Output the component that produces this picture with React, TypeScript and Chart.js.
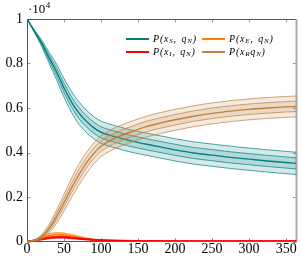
import React, { useEffect, useRef } from "react";
import { Chart, registerables } from "chart.js";

Chart.register(...registerables);

// time axis (days)
const T = [0, 10, 20, 30, 40, 50, 60, 70, 80, 90, 100, 120, 140, 160, 180, 200, 225, 250, 275, 300, 325, 350, 364];

// S
const S_mean = [1.0, 0.945, 0.89, 0.825, 0.762, 0.69, 0.628, 0.578, 0.541, 0.512, 0.491, 0.47, 0.452, 0.438, 0.425, 0.412, 0.398, 0.388, 0.378, 0.37, 0.362, 0.355, 0.351];
const S_outerHi = [1.0, 0.951, 0.905, 0.85, 0.797, 0.732, 0.675, 0.628, 0.591, 0.562, 0.541, 0.52, 0.502, 0.488, 0.475, 0.462, 0.448, 0.438, 0.428, 0.42, 0.412, 0.405, 0.401];
const S_outerLo = [1.0, 0.939, 0.875, 0.8, 0.727, 0.648, 0.581, 0.528, 0.491, 0.462, 0.441, 0.42, 0.402, 0.388, 0.375, 0.362, 0.348, 0.338, 0.328, 0.32, 0.312, 0.305, 0.301];
const S_innerHi = [1.0, 0.948, 0.897, 0.838, 0.779, 0.711, 0.651, 0.603, 0.566, 0.537, 0.516, 0.495, 0.477, 0.463, 0.45, 0.437, 0.423, 0.413, 0.403, 0.395, 0.387, 0.38, 0.376];
const S_innerLo = [1.0, 0.942, 0.883, 0.812, 0.745, 0.669, 0.605, 0.553, 0.516, 0.487, 0.466, 0.445, 0.427, 0.413, 0.4, 0.387, 0.373, 0.363, 0.353, 0.345, 0.337, 0.33, 0.326];

// E
const E_mean = [0, 0.006, 0.016, 0.026, 0.031, 0.03, 0.025, 0.018, 0.012, 0.008, 0.005, 0.003, 0.002, 0.001, 0.001, 0.0005, 0.0005, 0, 0, 0, 0, 0, 0];
const E_hi = [0, 0.009, 0.022, 0.035, 0.04, 0.038, 0.032, 0.024, 0.016, 0.011, 0.007, 0.004, 0.003, 0.002, 0.0015, 0.001, 0.001, 0.001, 0.001, 0.001, 0.001, 0.001, 0.001];
const E_lo = [0, 0.003, 0.01, 0.018, 0.022, 0.022, 0.018, 0.012, 0.008, 0.005, 0.003, 0.002, 0.001, 0.0005, 0, 0, 0, 0, 0, 0, 0, 0, 0];

// I
const I_mean = [0.001, 0.004, 0.01, 0.016, 0.019, 0.019, 0.016, 0.013, 0.01, 0.008, 0.006, 0.004, 0.003, 0.0025, 0.002, 0.002, 0.002, 0.002, 0.002, 0.002, 0.002, 0.002, 0.002];
const I_hi = [0.002, 0.006, 0.013, 0.02, 0.023, 0.023, 0.02, 0.016, 0.013, 0.01, 0.008, 0.006, 0.005, 0.004, 0.0035, 0.003, 0.003, 0.003, 0.003, 0.003, 0.003, 0.003, 0.003];
const I_lo = [0, 0.002, 0.007, 0.012, 0.015, 0.015, 0.012, 0.01, 0.007, 0.006, 0.004, 0.002, 0.001, 0.001, 0.001, 0.001, 0.001, 0.001, 0.001, 0.001, 0.001, 0.001, 0.001];

// R
const R_mean = [0, 0.004, 0.022, 0.058, 0.112, 0.175, 0.24, 0.3, 0.352, 0.395, 0.428, 0.466, 0.492, 0.515, 0.532, 0.547, 0.563, 0.576, 0.586, 0.594, 0.6, 0.605, 0.607];
const R_outerHi = [0, 0.006, 0.032, 0.078, 0.142, 0.213, 0.283, 0.347, 0.399, 0.442, 0.475, 0.513, 0.539, 0.562, 0.579, 0.594, 0.61, 0.623, 0.633, 0.641, 0.647, 0.652, 0.654];
const R_outerLo = [0, 0.002, 0.012, 0.038, 0.082, 0.137, 0.197, 0.253, 0.305, 0.348, 0.381, 0.419, 0.445, 0.468, 0.485, 0.5, 0.516, 0.529, 0.539, 0.547, 0.553, 0.558, 0.56];
const R_innerHi = [0, 0.005, 0.027, 0.068, 0.127, 0.194, 0.262, 0.324, 0.376, 0.419, 0.452, 0.49, 0.516, 0.539, 0.556, 0.571, 0.587, 0.6, 0.61, 0.618, 0.624, 0.629, 0.631];
const R_innerLo = [0, 0.003, 0.017, 0.048, 0.097, 0.156, 0.219, 0.277, 0.329, 0.372, 0.405, 0.443, 0.469, 0.492, 0.509, 0.524, 0.54, 0.553, 0.563, 0.571, 0.577, 0.582, 0.584];

const xTicks = [0, 50, 100, 150, 200, 250, 300, 350];
const yTicks = [0, 0.2, 0.4, 0.6, 0.8, 1];
const legendLabels = ["P(x_S, q_N)", "P(x_E, q_N)", "P(x_I, q_N)", "P(x_Rq_N)"];

const TEAL = "rgb(0,128,128)";
const ORANGE = "rgb(255,128,0)";
const RED = "rgb(255,0,0)";
const BROWN = "rgb(191,128,64)";
const legendColors = [TEAL, ORANGE, RED, BROWN];

const pts = (arr: number[]) => arr.map((y, i) => ({ x: T[i], y }));

function buildDatasets() {
  const ds: any[] = [];
  const band = (lo: number[], hi: number[], line: string, fillCol: string, bw: number) => {
    const loIdx = ds.length;
    ds.push({ data: pts(lo), borderColor: line, borderWidth: bw, fill: false });
    ds.push({ data: pts(hi), borderColor: line, borderWidth: bw, fill: { target: loIdx }, backgroundColor: fillCol });
  };
  // S
  band(S_outerLo, S_outerHi, TEAL, "rgba(0,128,128,0.17)", 0.7);
  band(S_innerLo, S_innerHi, TEAL, "rgba(0,128,128,0.17)", 0.7);
  ds.push({ data: pts(S_mean), borderColor: TEAL, borderWidth: 1.4, fill: false });
  // E
  band(E_lo, E_hi, ORANGE, "rgba(255,128,0,0.5)", 0.7);
  ds.push({ data: pts(E_mean), borderColor: ORANGE, borderWidth: 1.4, fill: false });
  // I
  band(I_lo, I_hi, RED, "rgba(255,0,0,0.5)", 0.7);
  ds.push({ data: pts(I_mean), borderColor: RED, borderWidth: 1.6, fill: false });
  // R
  band(R_outerLo, R_outerHi, BROWN, "rgba(191,128,64,0.17)", 0.7);
  band(R_innerLo, R_innerHi, BROWN, "rgba(191,128,64,0.17)", 0.7);
  ds.push({ data: pts(R_mean), borderColor: BROWN, borderWidth: 1.4, fill: false });
  ds.forEach((d, i) => {
    d.order = -i;
    d.pointRadius = 0;
    d.cubicInterpolationMode = "monotone";
  });
  return ds;
}

function drawMath(ctx: CanvasRenderingContext2D, x: number, y: number, label: string) {
  let cx = x;
  const base = 'italic 10px "Liberation Serif", serif';
  const subF = 'italic 7px "Liberation Serif", serif';
  ctx.textBaseline = "middle";
  ctx.textAlign = "left";
  ctx.fillStyle = "#000";
  for (let i = 0; i < label.length; i++) {
    const ch = label[i];
    if (ch === "_" && i + 1 < label.length) {
      ctx.font = subF;
      ctx.fillText(label[i + 1], cx, y + 2.5);
      cx += ctx.measureText(label[i + 1]).width + 0.8;
      i++;
    } else {
      ctx.font = base;
      ctx.fillText(ch, cx, y);
      cx += ctx.measureText(ch).width + (ch === "," ? 2 : 0.8);
    }
  }
}

const framePlugin = {
  id: "frame",
  beforeDatasetsDraw(chart: any) {
    const { ctx, chartArea: a, scales } = chart;
    ctx.save();
    ctx.strokeStyle = "#999";
    ctx.lineWidth = 1;
    const tl = 3.5;
    xTicks.forEach((v) => {
      const px = Math.round(scales.x.getPixelForValue(v)) + 0.5;
      ctx.beginPath();
      ctx.moveTo(px, a.bottom);
      ctx.lineTo(px, a.bottom - tl);
      ctx.moveTo(px, a.top);
      ctx.lineTo(px, a.top + tl);
      ctx.stroke();
    });
    yTicks.forEach((v) => {
      const py = Math.round(scales.y.getPixelForValue(v)) + 0.5;
      ctx.beginPath();
      ctx.moveTo(a.left, py);
      ctx.lineTo(a.left + tl, py);
      ctx.moveTo(a.right, py);
      ctx.lineTo(a.right - tl, py);
      ctx.stroke();
    });
    ctx.strokeStyle = "#555";
    ctx.beginPath();
    ctx.moveTo(a.left + 0.5, a.top + 0.5);
    ctx.lineTo(a.right, a.top + 0.5);
    ctx.moveTo(a.left + 0.5, a.top);
    ctx.lineTo(a.left + 0.5, a.bottom);
    ctx.lineTo(a.right, a.bottom);
    ctx.stroke();
    ctx.strokeStyle = "#aaa";
    ctx.lineWidth = 2;
    ctx.beginPath();
    ctx.moveTo(a.right, a.top);
    ctx.lineTo(a.right, a.bottom);
    ctx.stroke();
    ctx.restore();
  },
  afterDraw(chart: any) {
    const { ctx, chartArea: a } = chart;
    ctx.save();
    // exponent label
    ctx.fillStyle = "#000";
    ctx.textBaseline = "alphabetic";
    ctx.textAlign = "left";
    ctx.font = '13px "Liberation Serif", serif';
    ctx.fillText("·10", a.left + 1, 13);
    const w = ctx.measureText("·10").width;
    ctx.font = '9px "Liberation Serif", serif';
    ctx.fillText("4", a.left + 1 + w + 0.5, 7.5);
    // legend
    const rows = [39, 52];
    const cols = [126, 202];
    legendLabels.forEach((lab, i) => {
      const r = Math.floor(i / 2);
      const c = i % 2;
      const y = rows[r];
      const x = cols[c];
      ctx.strokeStyle = legendColors[i];
      ctx.lineWidth = 2;
      ctx.beginPath();
      ctx.moveTo(x, y);
      ctx.lineTo(x + 23, y);
      ctx.stroke();
      drawMath(ctx, x + 27, y, lab);
    });
    ctx.restore();
  },
};

export default function App() {
  const ref = useRef<HTMLCanvasElement>(null);
  useEffect(() => {
    if (!ref.current) return;
    const chart = new Chart(ref.current, {
      type: "line",
      data: { datasets: buildDatasets() },
      options: {
        animation: false,
        responsive: true,
        maintainAspectRatio: false,
        layout: { padding: { left: 0, right: 4.5, top: 19, bottom: 0 } },
        plugins: { legend: { display: false }, tooltip: { enabled: false } },
        scales: {
          x: {
            type: "linear",
            min: 0,
            max: 364,
            grid: { display: false, drawTicks: false },
            border: { display: false },
            afterBuildTicks: (s: any) => {
              s.ticks = xTicks.map((v) => ({ value: v }));
            },
            afterFit: (s: any) => {
              s.height = 19.5;
            },
            ticks: {
              color: "#000",
              font: { family: '"Liberation Serif", serif', size: 14 },
              padding: -1,
              maxRotation: 0,
              autoSkip: false,
            },
          },
          y: {
            type: "linear",
            min: 0,
            max: 1,
            grid: { display: false, drawTicks: false },
            border: { display: false },
            afterBuildTicks: (s: any) => {
              s.ticks = yTicks.map((v) => ({ value: v }));
            },
            afterFit: (s: any) => {
              s.width = 27;
            },
            ticks: {
              color: "#000",
              font: { family: '"Liberation Serif", serif', size: 14 },
              padding: 4,
              callback: (v: any) => String(Number(Number(v).toFixed(1))),
            },
          },
        },
      },
      plugins: [framePlugin],
    });
    return () => chart.destroy();
  }, []);
  return (
    <div style={{ position: "fixed", left: 0, top: 0, width: 301, height: 261 }}>
      <canvas ref={ref} />
    </div>
  );
}
